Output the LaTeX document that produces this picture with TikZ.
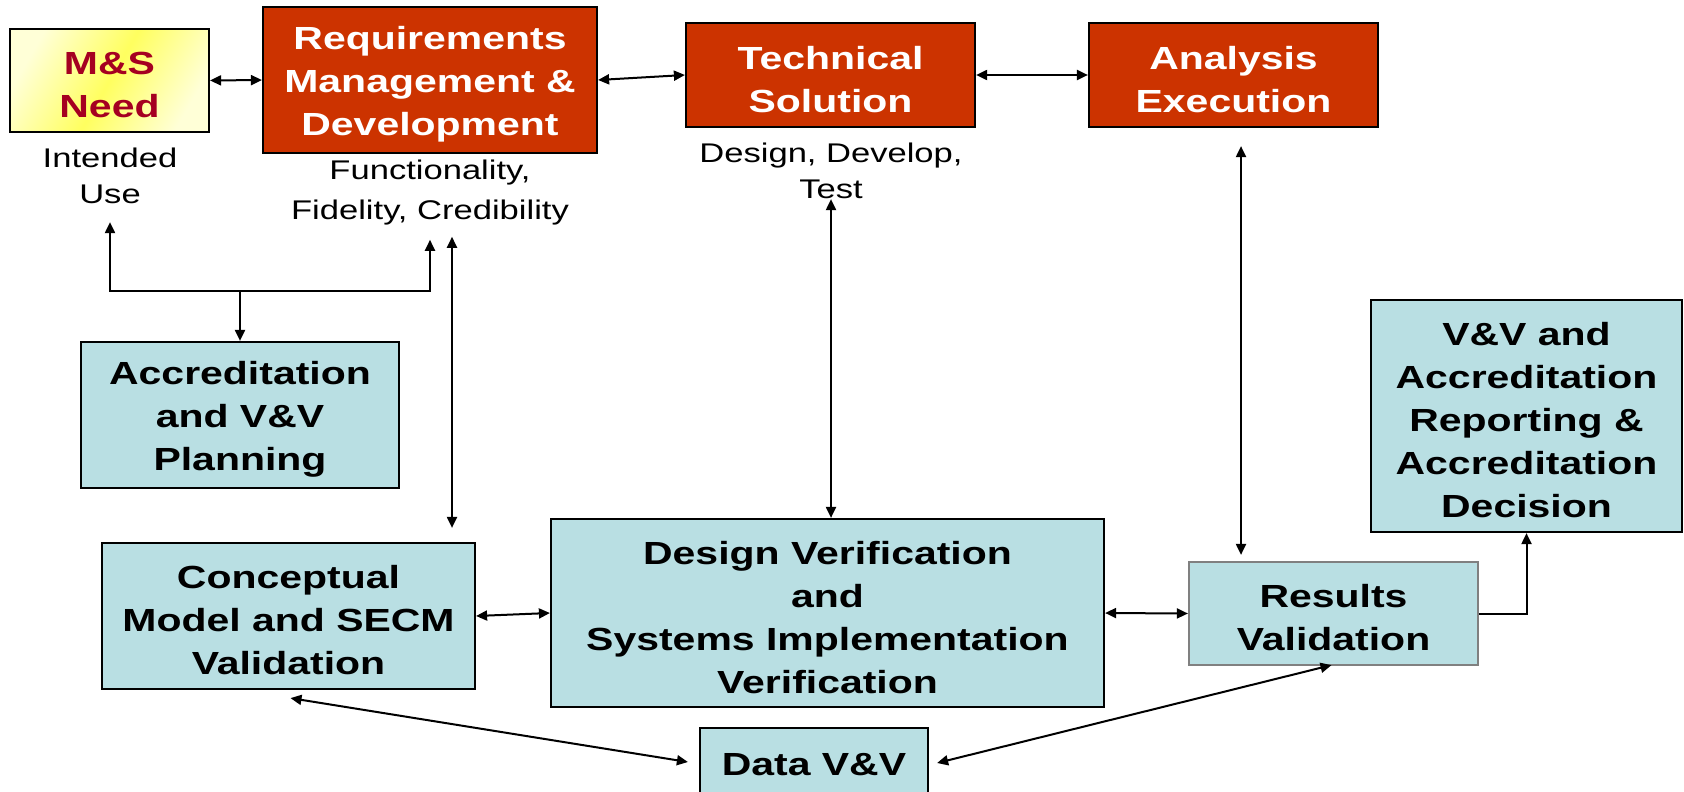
\documentclass[tikz,border=0pt]{standalone}
\usepackage{fontspec}
\setmainfont{Liberation Sans}[FakeStretch=1.28]
\usetikzlibrary{arrows.meta,calc}
\definecolor{boxred}{RGB}{204,51,0}
\definecolor{boxblue}{RGB}{185,223,227}
\definecolor{needred}{RGB}{165,0,33}
\definecolor{paleyellow}{RGB}{255,255,215}
\definecolor{deepyellow}{RGB}{255,255,95}
\newcommand\boxtext{\fontsize{32}{43}\selectfont\bfseries}
\newcommand\notetext{\fontsize{27}{36}\selectfont}
% a tall strut on the first line sets the box text a little below centre
\newcommand\toplift{\rule{0pt}{32pt}}
\begin{document}
\begin{tikzpicture}[x=1pt,y=-1pt,
  >={Triangle[length=11pt,width=10pt]},
  basebox/.style={draw=black, line width=2.2pt, inner sep=0pt, align=center, font=\boxtext},
  redbox/.style={basebox, fill=boxred, text=white},
  bluebox/.style={basebox, fill=boxblue, text=black},
  needbox/.style={basebox, text=needred, left color=paleyellow, right color=paleyellow,
                  middle color=deepyellow, shading angle=60},
  note/.style={inner sep=0pt, align=center, font=\notetext},
  link/.style={line width=2pt, <->},
  onearrow/.style={line width=2pt, ->}
]
% canvas
\path[use as bounding box] (0,0) rectangle (1684,792);
\clip (0,0) rectangle (1684,792);
\fill[white] (0,0) rectangle (1684,792);

% top row
\node[needbox, minimum width=199pt, minimum height=103pt] (need) at (109.5,80.5) {\toplift M\&S\\Need};
\node[redbox, minimum width=334pt, minimum height=146pt] (req) at (430,80)
  {\toplift Requirements\\Management \&\\Development};
\node[redbox, minimum width=289pt, minimum height=104pt] (tech) at (830.5,75) {\toplift Technical\\Solution};
\node[redbox, minimum width=289pt, minimum height=104pt] (anal) at (1233.5,75) {\toplift Analysis\\Execution};

% notes under the top row
\node[note] (use) at (110,176) {Intended\\Use};
\node[note, font=\fontsize{27}{40}\selectfont] (fun) at (430,193) {Functionality,\\Fidelity, Credibility};
\node[note] (ddt) at (831,171) {Design, Develop,\\Test};

% V&V activities
\node[bluebox, minimum width=318pt, minimum height=146pt] (acc) at (240,415)
  {\toplift Accreditation\\and V\&V\\Planning};
\node[bluebox, minimum width=373pt, minimum height=146pt] (cm) at (288.5,616)
  {\toplift Conceptual\\Model and SECM\\Validation};
\node[bluebox, minimum width=553pt, minimum height=188pt] (dv) at (827.5,613)
  {\toplift Design Verification\\and\\Systems Implementation\\Verification};
\node[bluebox, draw=gray, minimum width=289pt, minimum height=103pt] (rv) at (1333.5,613.5)
  {\toplift Results\\Validation};
\node[bluebox, minimum width=311pt, minimum height=232pt] (vv) at (1526.5,416)
  {\toplift V\&V and\\Accreditation\\Reporting \&\\Accreditation\\Decision};
\node[bluebox, minimum width=228pt, minimum height=74pt] (data) at (814,765) {Data V\&V};

% top row links
\draw[link] (need.east) -- (req.west);
\draw[link] (req.east) -- (tech.west);
\draw[link] (tech.east) -- (anal.west);

% planning feeds from intended use and requirements
\coordinate (jn) at (240,291);
\draw[onearrow] (jn) -- (acc.north);
\draw[onearrow, shorten >=18pt] (jn) -| (use.south);
\draw[onearrow, shorten >=14pt] (jn) -| (fun.south);

% vertical links
\draw[link, shorten <=11pt, shorten >=14pt] (fun.south -| 452,0) -- (cm.north -| 452,0);
\draw[link] (ddt.south) -- (ddt.south |- dv.north);
\draw[link, shorten <=18pt, shorten >=6pt] (anal.south -| 1241,0) -- (rv.north -| 1241,0);

% bottom row links
\draw[link] (cm.east) -- (dv.west);
\draw[link] (dv.east) -- (rv.west);
\draw[onearrow] (rv.east) -| (vv.south);
\draw[link] ($(cm.south)+(2,8)$) -- ($(data.west)+(-11,-3)$);
\draw[link] ($(data.east)+(8,-2)$) -- ($(rv.south)+(-2,-1)$);
\end{tikzpicture}
\end{document}
